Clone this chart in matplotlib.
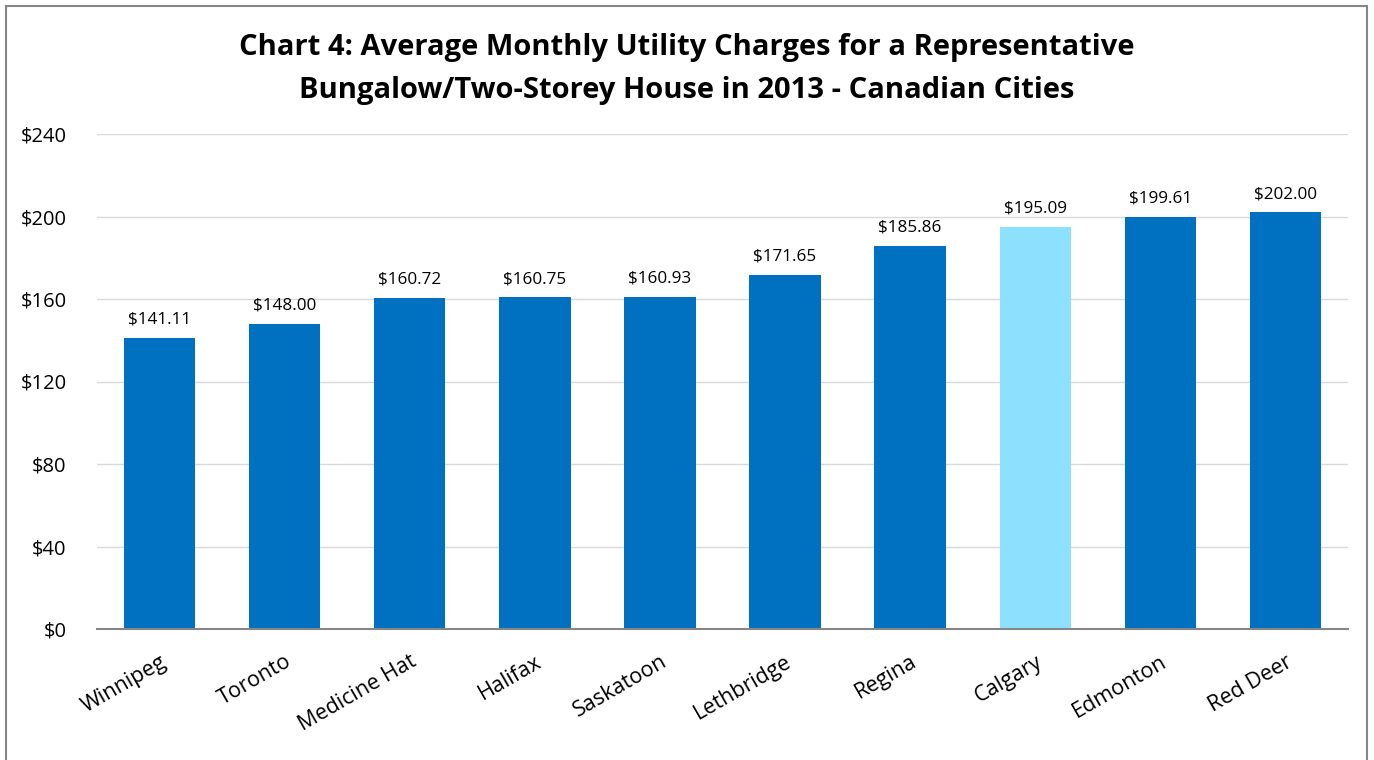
import matplotlib
matplotlib.use("Agg")
import matplotlib.pyplot as plt
from matplotlib.patches import Rectangle

cities = ["Winnipeg", "Toronto", "Medicine Hat", "Halifax", "Saskatoon",
          "Lethbridge", "Regina", "Calgary", "Edmonton", "Red Deer"]
values = [141.11, 148.00, 160.72, 160.75, 160.93, 171.65, 185.86, 195.09, 199.61, 202.00]
highlight = "Calgary"
yticks = [0, 40, 80, 120, 160, 200, 240]

plt.rcParams['font.family'] = ['Open Sans', 'DejaVu Sans']

fig = plt.figure(figsize=(13.74, 7.6), dpi=100)
ax = fig.add_axes([97/1374, 1-629/760, (1348-97)/1374, (629-134)/760])

colors = ["#8EE0FF" if c == highlight else "#0070C0" for c in cities]
x = range(len(cities))
ax.bar(x, values, width=0.57, color=colors, zorder=3)
for xi, v in zip(x, values):
    ax.text(xi, v + 5, f"${v:.2f}", ha='center', va='bottom', fontsize=12.3, color='#000000')

ax.set_xlim(-0.5, len(cities) - 0.5)
ax.set_ylim(0, 240)
ax.set_yticks(yticks)
ax.set_yticklabels([f"${t}" for t in yticks], fontsize=14.5)
ax.set_xticks(list(x))
ax.set_xticklabels(cities, rotation=30, ha='right', rotation_mode='anchor', fontsize=15.5)
ax.tick_params(axis='both', length=0)
ax.tick_params(axis='y', pad=22)
ax.tick_params(axis='x', pad=16)
ax.grid(axis='y', color='#D9D9D9', linewidth=1, zorder=0)
for s in ['left', 'right', 'top']:
    ax.spines[s].set_visible(False)
ax.spines['bottom'].set_color('#868686')
ax.spines['bottom'].set_linewidth(1.5)
ax.spines['bottom'].set_zorder(4)

fig.text(687/1374, 1-69/760,
         "Chart 4: Average Monthly Utility Charges for a Representative\nBungalow/Two-Storey House in 2013 - Canadian Cities",
         ha='center', va='center', fontsize=21, fontweight='bold', linespacing=1.62)

fig.patches.append(Rectangle((6/1374, -0.05), (1367-6)/1374, 1.05 - 6/760,
                             transform=fig.transFigure, fill=False,
                             edgecolor='#868686', linewidth=1.5))

fig.savefig("out.png", dpi=100)
